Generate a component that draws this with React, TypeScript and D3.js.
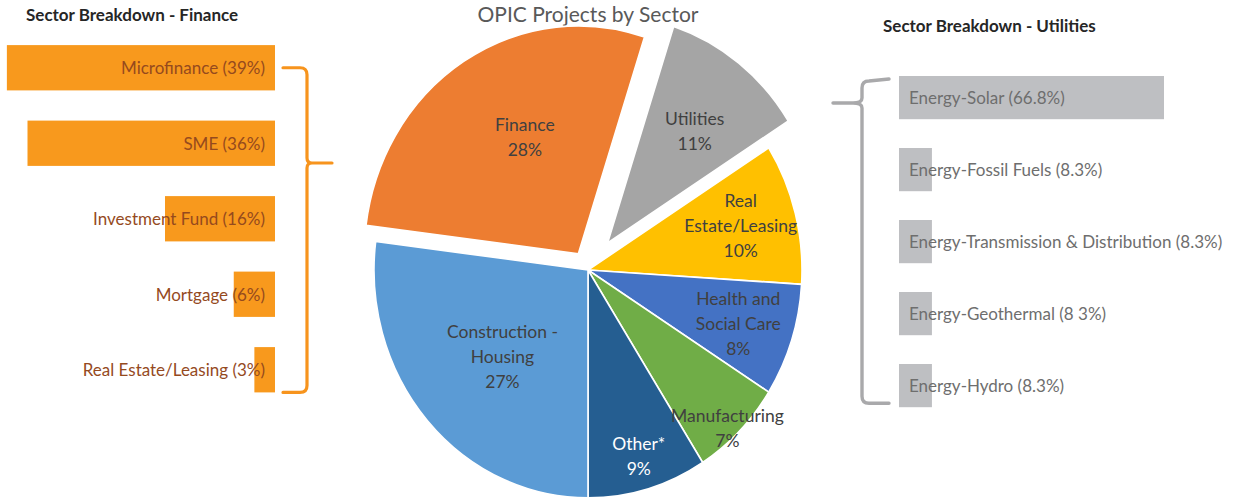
import React from "react";
import * as d3 from "d3";

// ---- Data ----
const chartTitle = "OPIC Projects by Sector";
const sectorNames = ["Utilities", "Real Estate/Leasing", "Health and Social Care", "Manufacturing", "Other*", "Construction - Housing", "Finance"];
const sectorValues = [11, 10, 8, 7, 9, 27, 28];
const sectorLabelLines = [
  ["Utilities", "11%"],
  ["Real", "Estate/Leasing", "10%"],
  ["Health and", "Social Care", "8%"],
  ["Manufacturing", "7%"],
  ["Other*", "9%"],
  ["Construction -", "Housing", "27%"],
  ["Finance", "28%"],
];

const financeTitle = "Sector Breakdown - Finance";
const financeCategories = ["Microfinance", "SME", "Investment Fund", "Mortgage", "Real Estate/Leasing"];
const financeValues = [39, 36, 16, 6, 3];
const financeLabels = ["Microfinance (39%)", "SME (36%)", "Investment Fund (16%)", "Mortgage (6%)", "Real Estate/Leasing (3%)"];

const utilitiesTitle = "Sector Breakdown - Utilities";
const utilitiesCategories = ["Energy-Solar", "Energy-Fossil Fuels", "Energy-Transmission & Distribution", "Energy-Geothermal", "Energy-Hydro"];
const utilitiesValues = [66.8, 8.3, 8.3, 8.3, 8.3];
const utilitiesLabels = [
  "Energy-Solar (66.8%)",
  "Energy-Fossil Fuels (8.3%)",
  "Energy-Transmission & Distribution (8.3%)",
  "Energy-Geothermal (8 3%)",
  "Energy-Hydro (8.3%)",
];

// ---- Styles ----
const sectorColors = ["#A5A5A5", "#FFC000", "#4472C4", "#70AD47", "#255E91", "#5B9BD5", "#ED7D31"];
const sectorExplode = [32, 0, 0, 0, 0, 0, 18];
const labelRadiusFrac = [0.64, 0.74, 0.74, 0.95, 0.85, 0.55, 0.57];
const labelAngleAdj = [1.7, -1, 0.4, 1.7, 0, -2, 6.4];
const labelColors = ["#404040", "#404040", "#404040", "#404040", "#FFFFFF", "#404040", "#404040"];

const FONT = "Lato, 'Open Sans', sans-serif";

export default function App() {
  const W = 1233, H = 502;
  const cx = 588, cy = 270, R = 214, yScaleF = 1.065;
  const deg = Math.PI / 180;
  const start = 18 * deg;

  const pie = d3.pie<number>().sort(null).startAngle(start).endAngle(start + 2 * Math.PI);
  const arcs = pie(sectorValues);
  const arcGen = d3.arc<d3.PieArcDatum<number>>().innerRadius(0).outerRadius(R);

  // Finance bars
  const finX = d3.scaleLinear().domain([0, 40]).range([0, 275]);
  const finRight = 275;
  const finY = d3.scaleBand<string>().domain(financeCategories).range([30, 407.5]).paddingInner(0.4).paddingOuter(0.2);

  // Utilities bars
  const utX = d3.scaleLinear().domain([0, 66.8]).range([0, 265]);
  const utLeft = 899;
  const utY = d3.scaleBand<string>().domain(utilitiesCategories).range([61.6, 421.6]).paddingInner(0.4).paddingOuter(0.2);

  const finBrace = (() => {
    const top = finY(financeCategories[0])! + finY.bandwidth() / 2;
    const bot = finY(financeCategories[financeCategories.length - 1])! + finY.bandwidth();
    const mid = 163;
    const xa = 283, xs = 307, xt = 332, r = 7;
    return `M${xa},${top} L${xs - r},${top} Q${xs},${top} ${xs},${top + r} L${xs},${mid - 5} Q${xs},${mid} ${xt - 20},${mid} L${xt},${mid} M${xt - 20},${mid} Q${xs},${mid} ${xs},${mid + 5} L${xs},${bot - r} Q${xs},${bot} ${xs - r},${bot} L${xa},${bot}`;
  })();

  const utBrace = (() => {
    const top = 79;
    const bot = utY(utilitiesCategories[utilitiesCategories.length - 1])! + utY.bandwidth() - 4;
    const mid = 103;
    const xa = 889, xs = 862, xt = 833, r = 7;
    return `M${xa},${top} L${xs + r},${top + 2} Q${xs},${top + 2} ${xs},${top + 9} L${xs},${mid - 5} Q${xs},${mid} ${xt + 20},${mid} L${xt},${mid} M${xt + 20},${mid} Q${xs},${mid} ${xs},${mid + 5} L${xs},${bot - r} Q${xs},${bot} ${xs + r},${bot} L${xa},${bot}`;
  })();

  return (
    <svg width={W} height={H} style={{ position: "fixed", left: 0, top: 0, background: "#fff" }} fontFamily={FONT}>
      <rect x={0} y={0} width={W} height={H} fill="#fff" />
      {/* Title */}
      <text x={cx} y={21.5} textAnchor="middle" fontSize={21} fill="#595959">{chartTitle}</text>

      {/* Pie */}
      <g transform={`translate(${cx},${cy}) scale(1,${yScaleF})`}>
        {arcs.map((a, i) => {
          const mid = (a.startAngle + a.endAngle) / 2;
          const dx = Math.sin(mid) * sectorExplode[i];
          const dy = -Math.cos(mid) * sectorExplode[i];
          return (
            <path key={sectorNames[i]} d={arcGen(a) || ""} transform={`translate(${dx},${dy})`}
              fill={sectorColors[i]} stroke="#fff" strokeWidth={1.6} strokeLinejoin="round" />
          );
        })}
      </g>
      {arcs.map((a, i) => {
        const mid = (a.startAngle + a.endAngle) / 2;
        const ex = Math.sin(mid) * sectorExplode[i];
        const ey = -Math.cos(mid) * sectorExplode[i];
        const la = mid + labelAngleAdj[i] * deg;
        const lr = labelRadiusFrac[i] * R;
        const x = cx + ex + Math.sin(la) * lr;
        const y = cy + (ey - Math.cos(la) * lr) * yScaleF;
        const lines = sectorLabelLines[i];
        const lh = 25;
        const y0 = y - ((lines.length - 1) * lh) / 2;
        return (
          <text key={"l" + i} textAnchor="middle" fontSize={17.5} fill={labelColors[i]}>
            {lines.map((t, j) => (
              <tspan key={j} x={x} y={y0 + j * lh} dominantBaseline="central">{t}</tspan>
            ))}
          </text>
        );
      })}

      {/* Finance breakdown */}
      <text x={26} y={21} fontSize={17} fontWeight="bold" fill="#262626">{financeTitle}</text>
      {financeCategories.map((c, i) => (
        <rect key={c} x={finRight - finX(financeValues[i])} y={finY(c)!} width={finX(financeValues[i])} height={finY.bandwidth()} fill="#F8991D" />
      ))}
      {financeCategories.map((c, i) => (
        <text key={"t" + c} x={265} y={finY(c)! + finY.bandwidth() / 2} textAnchor="end" dominantBaseline="central" fontSize={17} fill="#954A1E">{financeLabels[i]}</text>
      ))}
      <path d={finBrace} fill="none" stroke="#F7941D" strokeWidth={3.2} strokeLinecap="round" strokeLinejoin="round" />

      {/* Utilities breakdown */}
      <text x={883} y={32} fontSize={17} fontWeight="bold" fill="#262626">{utilitiesTitle}</text>
      {utilitiesCategories.map((c, i) => (
        <rect key={c} x={utLeft} y={utY(c)!} width={utX(utilitiesValues[i])} height={utY.bandwidth()} fill="#BEBFC2" />
      ))}
      {utilitiesCategories.map((c, i) => (
        <text key={"t" + c} x={909} y={utY(c)! + utY.bandwidth() / 2} dominantBaseline="central" fontSize={17} fill="#6E6E6E">{utilitiesLabels[i]}</text>
      ))}
      <path d={utBrace} fill="none" stroke="#A9A9AB" strokeWidth={3.4} strokeLinecap="round" strokeLinejoin="round" />
    </svg>
  );
}
